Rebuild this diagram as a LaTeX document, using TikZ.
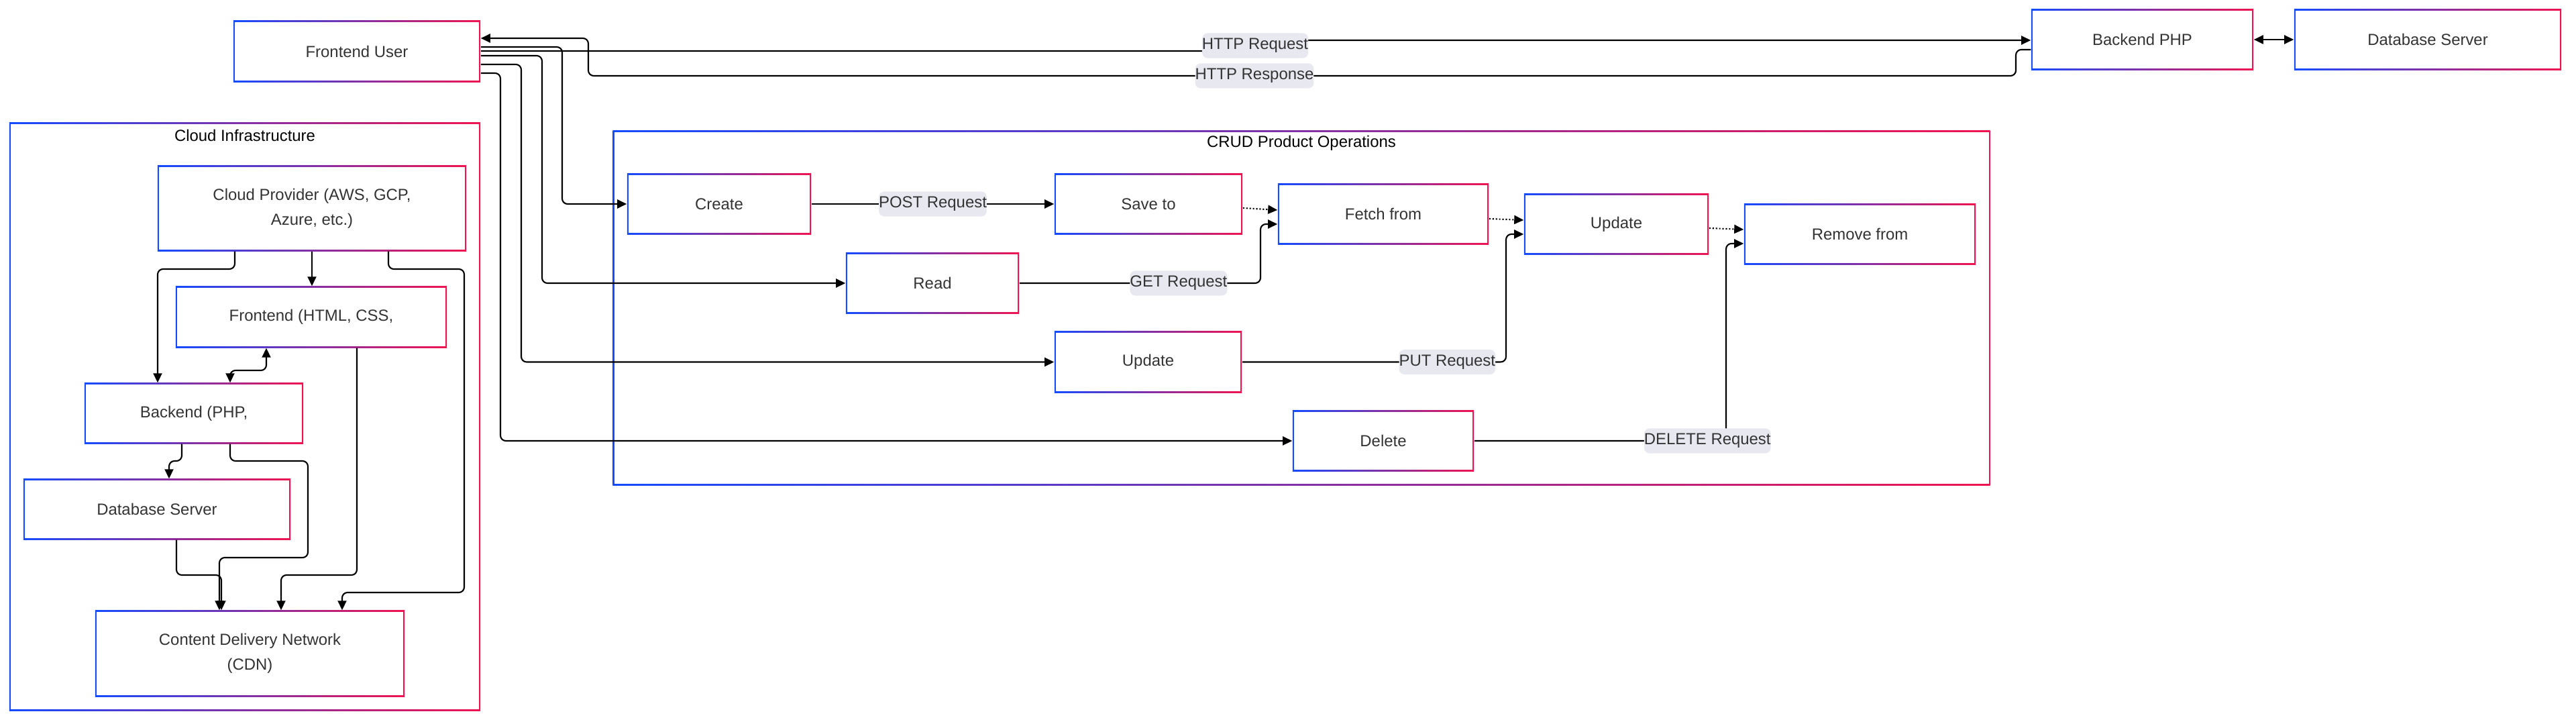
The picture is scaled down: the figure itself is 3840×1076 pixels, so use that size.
\documentclass[tikz,border=0pt]{standalone}
\usepackage{fontspec}
\setmainfont{Liberation Sans}
\usetikzlibrary{arrows.meta}
\definecolor{gblue}{RGB}{20,75,255}
\definecolor{gred}{RGB}{240,20,80}
\definecolor{txtgray}{RGB}{51,51,51}
\definecolor{lblbg}{RGB}{232,232,240}
\tikzset{
  >={Triangle[length=0.14cm,width=0.13cm]},
  gbox/.style={inner sep=0pt, align=center, text=txtgray,
    font=\fontsize{6.8}{10.5}\selectfont,
    path picture={
      \shade[left color=gblue, right color=gred] (path picture bounding box.south west) rectangle (path picture bounding box.north east);
      \fill[white] ([shift={(0.6pt,0.6pt)}]path picture bounding box.south west) rectangle ([shift={(-0.6pt,-0.6pt)}]path picture bounding box.north east);
    }},
  grouptitle/.style={font=\fontsize{6.8}{8.4}\selectfont, text=black},
  conn/.style={->, line width=0.6pt, rounded corners=0.08cm},
  dotconn/.style={->, draw=black, line width=0.6pt, dash pattern={on 0.6pt off 0.8pt}},
  lbl/.style={fill=lblbg, text=txtgray, font=\fontsize{6.8}{8.4}\selectfont, inner xsep=0pt, inner ysep=0pt, minimum height=0.37cm},
}
\begin{document}
\begin{tikzpicture}[x=0.01cm, y=-0.01cm]
	\useasboundingbox (0,0) rectangle (3840,1076);
	% groups
	\node[gbox, minimum width=7.02cm, minimum height=8.76cm] (cloud) at (365,621) {};
	\node[gbox, minimum width=20.52cm, minimum height=5.28cm] (crud) at (1940,459) {};
	\node[grouptitle] (cloudtitle) at (365,202) {Cloud Infrastructure};
	\node[grouptitle] (crudtitle) at (1940,213) {CRUD Product Operations};
	% top row
	\node[gbox, minimum width=3.68cm, minimum height=0.91cm] (fu) at (532,76.5) {Frontend User};
	\node[gbox, minimum width=3.31cm, minimum height=0.9cm] (bphp) at (3193.5,59) {Backend PHP};
	\node[gbox, minimum width=3.98cm, minimum height=0.9cm] (dbtop) at (3619,59) {Database Server};
	% crud
	\node[gbox, minimum width=2.74cm, minimum height=0.9cm] (create) at (1072,304) {Create};
	\node[gbox, minimum width=2.8cm, minimum height=0.9cm] (saveto) at (1712,304) {Save to};
	\node[gbox, minimum width=3.14cm, minimum height=0.9cm] (fetch) at (2062,319) {Fetch from};
	\node[gbox, minimum width=2.75cm, minimum height=0.9cm] (updr) at (2409.5,334) {Update};
	\node[gbox, minimum width=3.45cm, minimum height=0.9cm] (remove) at (2772.5,349) {Remove from};
	\node[gbox, minimum width=2.58cm, minimum height=0.9cm] (read) at (1390,422) {Read};
	\node[gbox, minimum width=2.79cm, minimum height=0.91cm] (updl) at (1711.5,539.5) {Update};
	\node[gbox, minimum width=2.7cm, minimum height=0.9cm] (delete) at (2062,657) {Delete};
	% cloud
	\node[gbox, minimum width=4.6cm, minimum height=1.27cm] (cprov) at (465,310.5) {Cloud Provider (AWS, GCP,\\Azure, etc.)};
	\node[gbox, minimum width=4.04cm, minimum height=0.91cm] (fend) at (464,472.5) {Frontend (HTML, CSS,};
	\node[gbox, minimum width=3.26cm, minimum height=0.9cm] (bend) at (289,616) {Backend (PHP,};
	\node[gbox, minimum width=3.98cm, minimum height=0.9cm] (dbcloud) at (234,759) {Database Server};
	\node[gbox, minimum width=4.61cm, minimum height=1.28cm] (cdn) at (372.5,974) {Content Delivery Network\\(CDN)};

	% http
	\draw[conn] (fu.east |- 0,76) -- (1871,76) -- node[lbl] {HTTP Request} (1871,60) -- (bphp.west |- 0,60);
	\draw[conn] (bphp.west |- 0,74) -- (3005,74) -- (3005,113) -- (1870,113) node[lbl] {HTTP Response} -- (877,113) -- (877,57) -- (fu.east |- 0,57);
	\draw[<->, line width=0.6pt] (bphp.east) -- (dbtop.west);
	% frontend user to crud
	\draw[conn] (fu.east |- 0,70) -- (838,70) -- (838,304) -- (create.west);
	\draw[conn] (fu.east |- 0,83) -- (808,83) -- (808,422) -- (read.west);
	\draw[conn] (fu.east |- 0,96) -- (777,96) -- (777,539.5) -- (updl.west);
	\draw[conn] (fu.east |- 0,109) -- (746,109) -- (746,657) -- (delete.west);
	% requests
	\draw[conn] (create.east) -- node[lbl] {POST Request} (saveto.west);
	\draw[conn] (read.east) -- node[lbl, pos=0.66] {GET Request} (1879,422) -- (1879,334) -- (fetch.west |- 0,334);
	\draw[conn] (updl.east) -- node[lbl, pos=0.777] {PUT Request} (2245,539.5) -- (2245,349) -- (updr.west |- 0,349);
	\draw[conn] (delete.east) -- node[lbl, pos=0.926] {DELETE Request} (2573,657) -- (2573,363) -- (remove.west |- 0,363);
	\draw[dotconn] (saveto.east |- 0,310) -- (fetch.west |- 0,313);
	\draw[dotconn] (fetch.east |- 0,326) -- (updr.west |- 0,328);
	\draw[dotconn] (updr.east |- 0,340) -- (remove.west |- 0,342);
	% cloud links
	\draw[conn] (cprov.south) -- (cprov.south |- fend.north);
	\draw[conn] (350,0 |- cprov.south) -- (350,401) -- (235,401) -- (235,0 |- bend.north);
	\draw[conn] (579,0 |- cprov.south) -- (579,401) -- (692,401) -- (692,883) -- (510,883) -- (510,0 |- cdn.north);
	\draw[<->, line width=0.6pt, rounded corners=0.08cm] (397,0 |- fend.south) -- (397,552) -- (343,552) -- (343,0 |- bend.north);
	\draw[conn] (532,0 |- fend.south) -- (532,857) -- (419,857) -- (419,0 |- cdn.north);
	\draw[conn] (271,0 |- bend.south) -- (271,687) -- (252,687) -- (252,0 |- dbcloud.north);
	\draw[conn] (343,0 |- bend.south) -- (343,687) -- (459,687) -- (459,831) -- (327,831) -- (327,0 |- cdn.north);
	\draw[conn] (263,0 |- dbcloud.south) -- (263,857) -- (330,857) -- (330,0 |- cdn.north);
\end{tikzpicture}
\end{document}
